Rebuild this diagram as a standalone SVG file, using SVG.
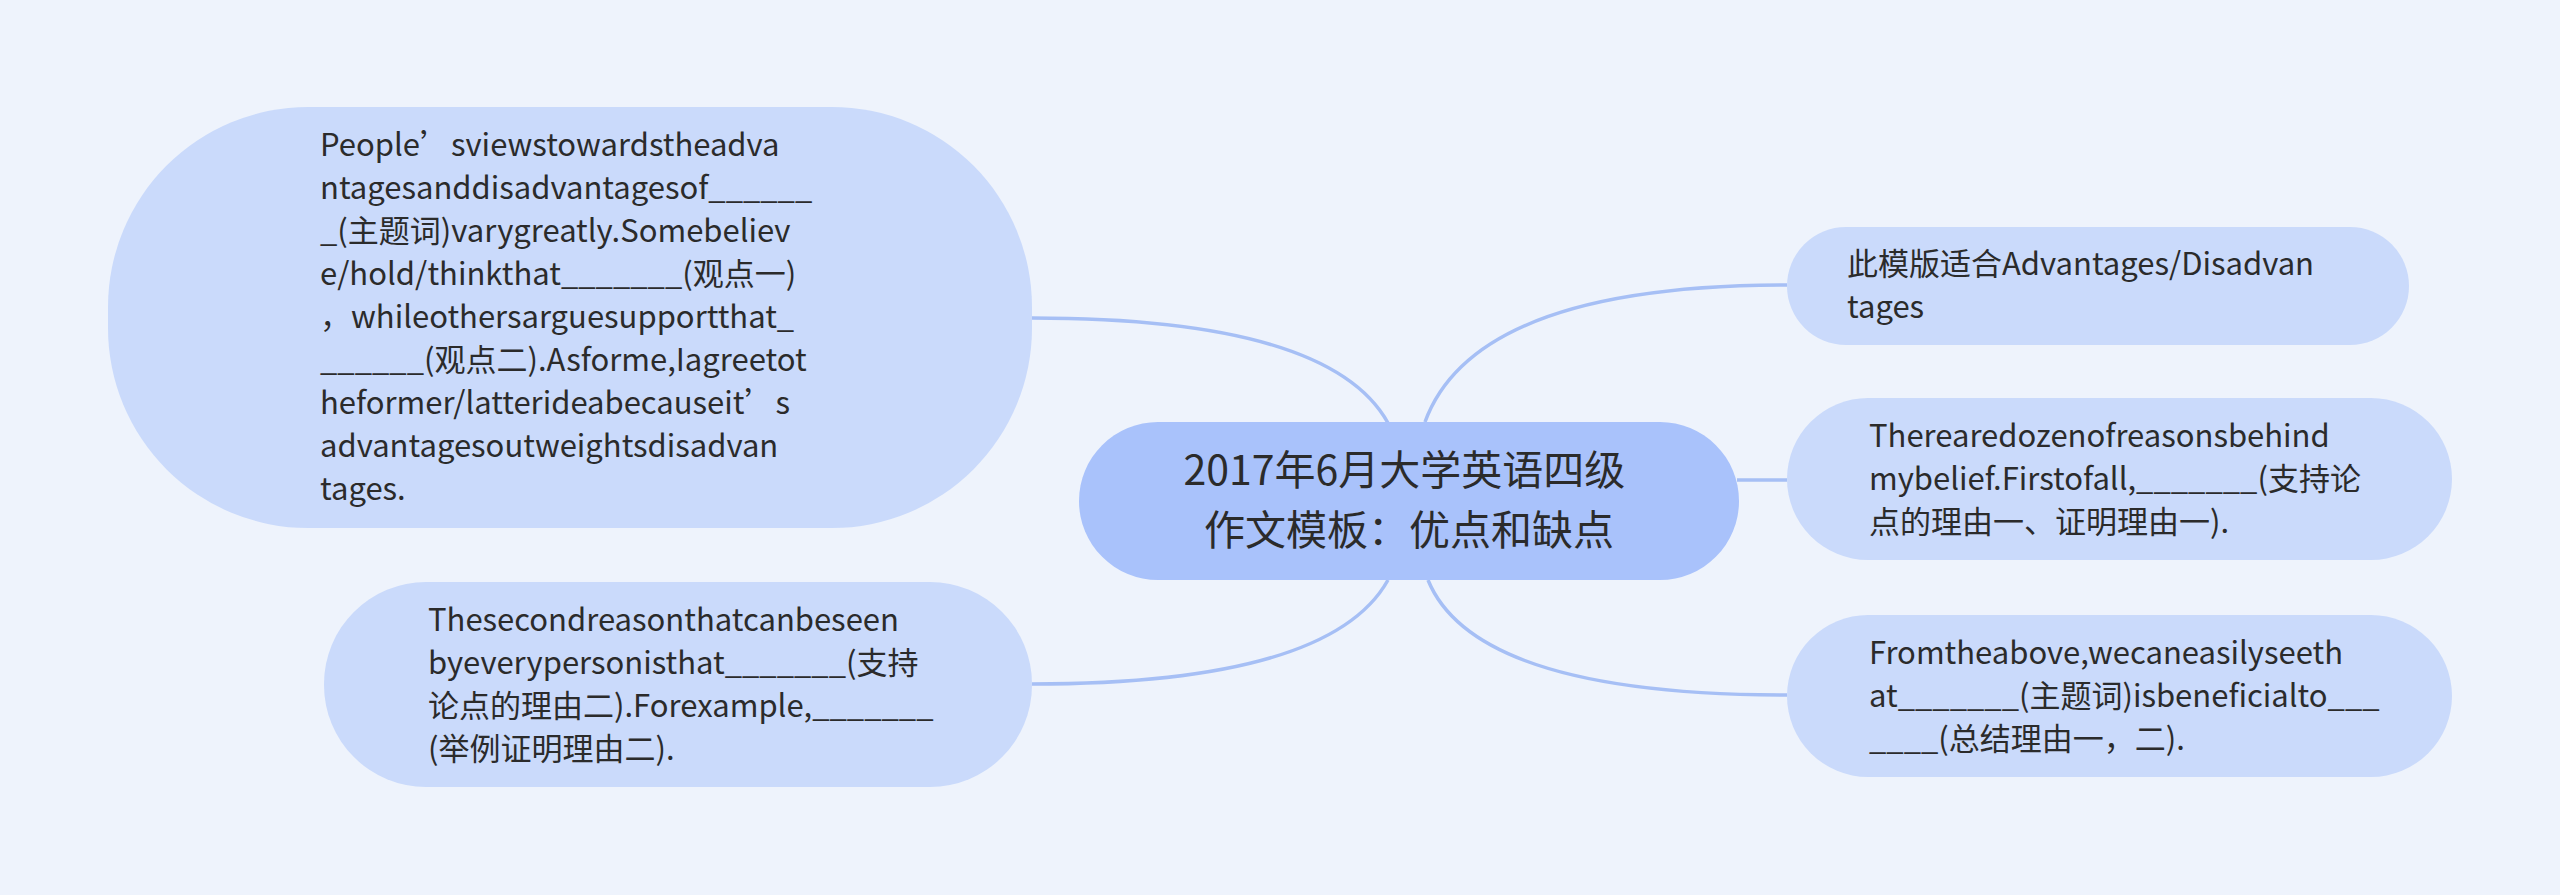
<svg xmlns="http://www.w3.org/2000/svg" width="2560" height="895" viewBox="0 0 2560 895">
<style>
.bg{fill:#eef3fc}
.child{fill:#cadafb}
.root{fill:#a9c2fb}
.link{fill:none;stroke:#a6bff5;stroke-width:3.5}
.t{font-family:"Noto Sans CJK SC","Noto Sans",sans-serif;font-size:31px;fill:#2b2b2b}
.tc{font-family:"Noto Sans CJK SC","Noto Sans",sans-serif;font-size:41px;fill:#2b2b2b;text-anchor:middle}
</style>
<rect class="bg" x="0" y="0" width="2560" height="895"/>
<g id="connectors">
<path class="link" d="M1032,318 Q1330,318 1388,423"/>
<path class="link" d="M1032,684 Q1330,684 1388,580"/>
<path class="link" d="M1787,285 Q1475,285 1425,422"/>
<path class="link" d="M1737,480 L1787,480"/>
<path class="link" d="M1787,695 Q1475,695 1428,580"/>
</g>
<g id="node-root">
<rect class="root" x="1079" y="422" width="660" height="158" rx="79" ry="79"/>
<text class="tc">
<tspan x="1409" y="485">2017年6月大学英语四级</tspan>
<tspan x="1409" y="545">作文模板：优点和缺点</tspan>
</text>
</g>
<g id="node-intro">
<rect class="child" x="108" y="107" width="924" height="421" rx="200" ry="200"/>
<text class="t">
<tspan x="320" y="156">People’sviewstowardstheadva</tspan>
<tspan x="320" y="199">ntagesanddisadvantagesof______</tspan>
<tspan x="320" y="242">_(主题词)varygreatly.Somebeliev</tspan>
<tspan x="320" y="285">e/hold/thinkthat_______(观点一)</tspan>
<tspan x="320" y="328">，whileothersarguesupportthat_</tspan>
<tspan x="320" y="371">______(观点二).Asforme,Iagreetot</tspan>
<tspan x="320" y="414">heformer/latterideabecauseit’s</tspan>
<tspan x="320" y="457">advantagesoutweightsdisadvan</tspan>
<tspan x="320" y="500">tages.</tspan>
</text>
</g>
<g id="node-reason2">
<rect class="child" x="324" y="582" width="708" height="205" rx="102" ry="102"/>
<text class="t">
<tspan x="428" y="631">Thesecondreasonthatcanbeseen</tspan>
<tspan x="428" y="674">byeverypersonisthat_______(支持</tspan>
<tspan x="428" y="717">论点的理由二).Forexample,_______</tspan>
<tspan x="428" y="760">(举例证明理由二).</tspan>
</text>
</g>
<g id="node-usage">
<rect class="child" x="1787" y="227" width="622" height="118" rx="59" ry="59"/>
<text class="t">
<tspan x="1847" y="275">此模版适合Advantages/Disadvan</tspan>
<tspan x="1847" y="318">tages</tspan>
</text>
</g>
<g id="node-reason1">
<rect class="child" x="1787" y="398" width="665" height="162" rx="81" ry="81"/>
<text class="t">
<tspan x="1869" y="447">Therearedozenofreasonsbehind</tspan>
<tspan x="1869" y="490">mybelief.Firstofall,_______(支持论</tspan>
<tspan x="1869" y="533">点的理由一、证明理由一).</tspan>
</text>
</g>
<g id="node-conclusion">
<rect class="child" x="1787" y="615" width="665" height="162" rx="81" ry="81"/>
<text class="t">
<tspan x="1869" y="664">Fromtheabove,wecaneasilyseeth</tspan>
<tspan x="1869" y="707">at_______(主题词)isbeneficialto___</tspan>
<tspan x="1869" y="750">____(总结理由一，二).</tspan>
</text>
</g>
</svg>
